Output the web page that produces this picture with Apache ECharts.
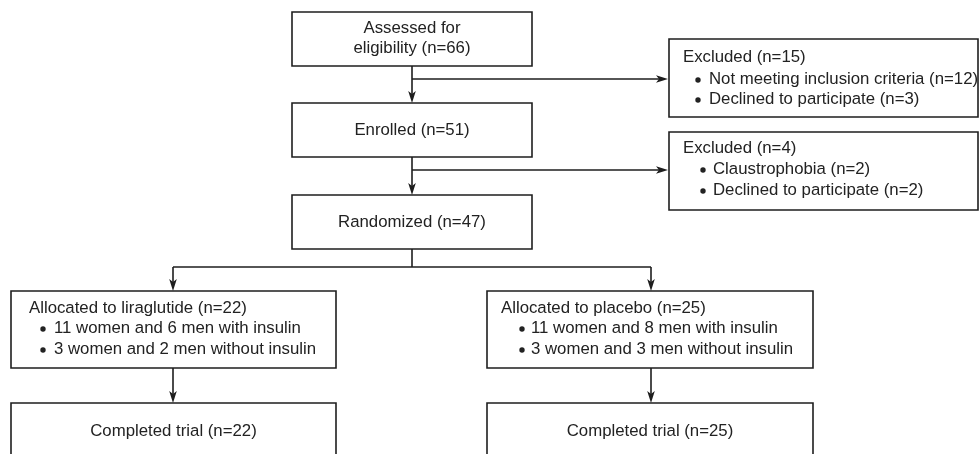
<!DOCTYPE html>
<html><head><meta charset="utf-8">
<script src="https://cdn.jsdelivr.net/npm/echarts@6.0.0/dist/echarts.min.js"></script>
<style>html,body{margin:0;padding:0;background:#fff}#c{width:979px;height:454px}</style>
</head><body><div id="c"></div>
<script>
// ---------- data ----------
const stageNames = ['Assessed for\neligibility', 'Enrolled', 'Randomized'];
const stageCounts = [66, 51, 47];
const exclusionTitle = 'Excluded';
const exclusionCounts = [15, 4];
const exclusionReasons = [['Not meeting inclusion criteria', 'Declined to participate'], ['Claustrophobia', 'Declined to participate']];
const exclusionReasonCounts = [[12, 3], [2, 2]];
const armNames = ['liraglutide', 'placebo'];
const armCounts = [22, 25];
const armSubgroups = [['11 women and 6 men with insulin', '3 women and 2 men without insulin'], ['11 women and 8 men with insulin', '3 women and 3 men without insulin']];
const completedLabel = 'Completed trial';
const completedCounts = [22, 25];

// ---------- layout (diagram units) ----------
const stageBoxes = [[292, 12, 532, 66], [292, 103, 532, 157], [292, 195, 532, 249]];
const stageTextY = [[28, 48], [130], [222]];
const exclBoxes = [[669, 39, 978, 117], [669, 132, 978, 210]];
const exclTextX = [[683, 698, 709], [683, 703, 713]];
const exclTextY = [[57, 79, 99], [148, 169, 190]];
const armBoxes = [[11, 291, 336, 368], [487, 291, 813, 368]];
const armTextX = [[29, 43, 54], [501, 522, 531]];
const armTextY = [308, 328, 349];
const compBoxes = [[11, 403, 336, 470], [487, 403, 813, 470]];
const compTextY = 431;
const connectors = [
  {pts: [[412, 66], [412, 103]], arrow: true},
  {pts: [[412, 79], [668, 79]], arrow: true},
  {pts: [[412, 157], [412, 195]], arrow: true},
  {pts: [[412, 170], [668, 170]], arrow: true},
  {pts: [[412, 249], [412, 267]], arrow: false},
  {pts: [[173, 267], [651, 267]], arrow: false},
  {pts: [[173, 267], [173, 291]], arrow: true},
  {pts: [[651, 267], [651, 291]], arrow: true},
  {pts: [[173, 368], [173, 403]], arrow: true},
  {pts: [[651, 368], [651, 403]], arrow: true}
];

const LINE = '#1e1e1e', TEXT = '#222', LW = 1.6, FS = 16.8, FF = '"Liberation Sans", Arial, Helvetica, sans-serif';
const n = c => ' (n=' + c + ')';

// ---------- build boxes ----------
const boxes = [];
stageBoxes.forEach((r, i) => {
  const parts = (stageNames[i] + n(stageCounts[i])).split('\n');
  boxes.push({r, lines: parts.map((t, k) => ({text: t, x: (r[0] + r[2]) / 2, y: stageTextY[i][k], align: 'center'}))});
});
exclBoxes.forEach((r, i) => {
  const lines = [{text: exclusionTitle + n(exclusionCounts[i]), x: exclTextX[i][0], y: exclTextY[i][0], align: 'left'}];
  exclusionReasons[i].forEach((t, k) => lines.push({text: t + n(exclusionReasonCounts[i][k]), x: exclTextX[i][2], bx: exclTextX[i][1], y: exclTextY[i][k + 1], align: 'left', bullet: true}));
  boxes.push({r, lines});
});
armBoxes.forEach((r, i) => {
  const lines = [{text: 'Allocated to ' + armNames[i] + n(armCounts[i]), x: armTextX[i][0], y: armTextY[0], align: 'left'}];
  armSubgroups[i].forEach((t, k) => lines.push({text: t, x: armTextX[i][2], bx: armTextX[i][1], y: armTextY[k + 1], align: 'left', bullet: true}));
  boxes.push({r, lines});
});
compBoxes.forEach((r, i) => {
  boxes.push({r, lines: [{text: completedLabel + n(completedCounts[i]), x: (r[0] + r[2]) / 2, y: compTextY, align: 'center'}]});
});

function renderBox(params, api) {
  const b = boxes[params.dataIndex];
  const p0 = api.coord([b.r[0], b.r[1]]), p1 = api.coord([b.r[2], b.r[3]]);
  const ch = [{type: 'rect', shape: {x: p0[0], y: p0[1], width: p1[0] - p0[0], height: p1[1] - p0[1]},
    style: {fill: '#fff', stroke: LINE, lineWidth: LW}}];
  b.lines.forEach(l => {
    const p = api.coord([l.x, l.y]);
    ch.push({type: 'text', style: {text: l.text, x: p[0], y: p[1], fill: TEXT, fontSize: FS, fontFamily: FF, align: l.align, verticalAlign: 'middle'}});
    if (l.bullet) {
      const q = api.coord([l.bx, l.y]);
      ch.push({type: 'circle', shape: {cx: q[0], cy: q[1] + 1, r: 2.7}, style: {fill: TEXT}});
    }
  });
  return {type: 'group', children: ch};
}

function renderConn(params, api) {
  const c = connectors[params.dataIndex];
  const pts = c.pts.map(p => api.coord(p));
  const ch = [];
  let line = pts.slice();
  if (c.arrow) {
    const a = pts[pts.length - 2], t = pts[pts.length - 1];
    const dx = t[0] - a[0], dy = t[1] - a[1], len = Math.hypot(dx, dy);
    const ux = dx / len, uy = dy / len, px = -uy, py = ux;
    const L = 12, W = 3.8, N = 9;
    line[line.length - 1] = [t[0] - ux * N, t[1] - uy * N];
    ch.push({type: 'polygon', shape: {points: [
      [t[0], t[1]],
      [t[0] - ux * L + px * W, t[1] - uy * L + py * W],
      [t[0] - ux * N, t[1] - uy * N],
      [t[0] - ux * L - px * W, t[1] - uy * L - py * W]
    ]}, style: {fill: LINE}});
  }
  ch.unshift({type: 'polyline', shape: {points: line}, style: {stroke: LINE, lineWidth: LW, fill: null}});
  return {type: 'group', children: ch};
}

const chart = echarts.init(document.getElementById('c'), null, {renderer: 'canvas'});
chart.setOption({
  animation: false,
  backgroundColor: '#fff',
  grid: {left: 0, right: 0, top: 0, bottom: 0},
  xAxis: {type: 'value', min: 0, max: 979, show: false},
  yAxis: {type: 'value', min: 0, max: 454, inverse: true, show: false},
  series: [
    {type: 'custom', coordinateSystem: 'cartesian2d', clip: false, silent: true, renderItem: renderConn,
      data: connectors.map(c => c.pts[0])},
    {type: 'custom', coordinateSystem: 'cartesian2d', clip: false, silent: true, renderItem: renderBox,
      data: boxes.map(b => [(b.r[0] + b.r[2]) / 2, (b.r[1] + b.r[3]) / 2])}
  ]
});
</script></body></html>
